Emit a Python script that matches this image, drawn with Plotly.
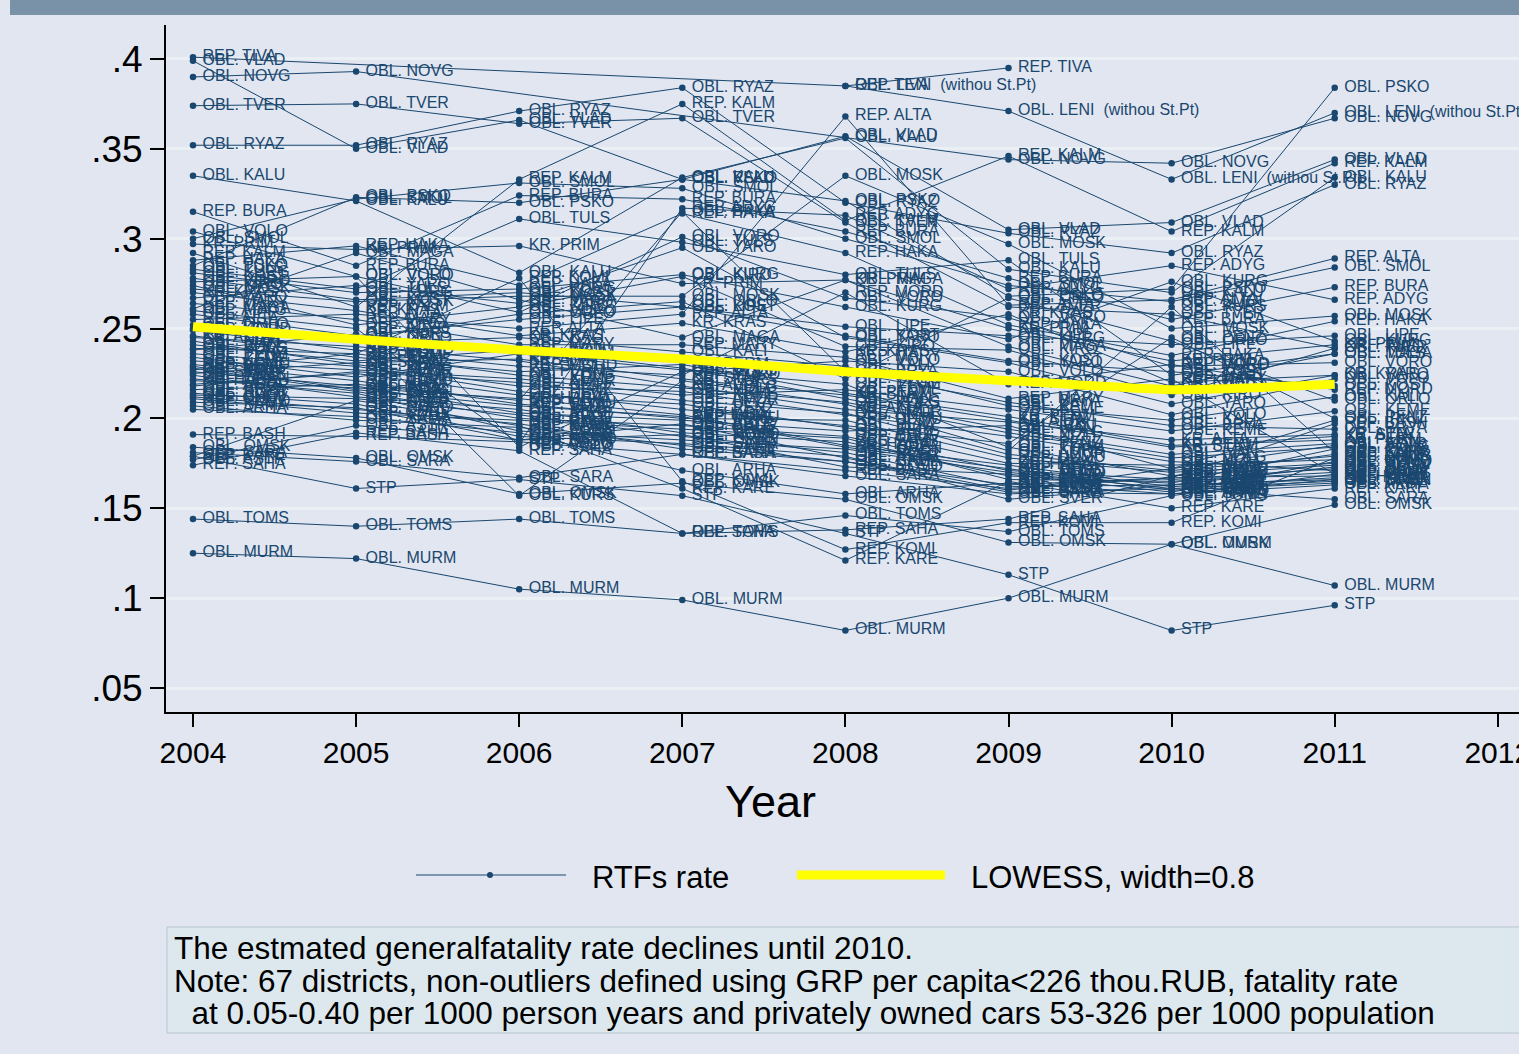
import plotly.graph_objects as go

years = [2004, 2005, 2006, 2007, 2008, 2009, 2010, 2011]

districts = [
    "REP. TIVA", "OBL. VLAD", "OBL. NOVG", "OBL. TVER", "OBL. RYAZ", "OBL. KALU", "REP. BURA",
    "OBL. VOLO", "OBL. SMOL", "KR. PRIM", "REP. KALM", "OBL. PSKO", "OBL. KURG", "OBL. KOST",
    "OBL. KIRO", "KR. KRAS", "REP. MARY", "KR. ALTA", "OBL. LIPE", "OBL. TULS", "OBL. VORO",
    "OBL. YARO", "REP. ADYG", "OBL. MOSK", "OBL. LENI  (withou St.Pt)", "REP. ALTA", "REP. MORD",
    "OBL. ORLO", "OBL. KEME", "REP. KOMI", "REP. KARE", "OBL. PENZ", "OBL. IVAN", "REP. UDMU",
    "OBL. BRYA", "OBL. BELG", "OBL. KURS", "OBL. TAMB", "OBL. ULYA", "KR. PERM", "OBL. NIZH",
    "OBL. OREN", "OBL. CHEL", "OBL. SVER", "OBL. TYUM", "OBL. IRKU", "REP. HAKA", "KR. HABA",
    "OBL. AMUR", "OBL. MAGA", "REP. CHUV", "REP. TATA", "OBL. VOLG", "OBL. ROST", "KR. STAV",
    "OBL. KALI", "OBL. NOVO", "OBL. ASTR", "OBL. SARA", "OBL. ARHA", "REP. BASH", "OBL. OMSK",
    "REP. SAHA", "OBL. TOMS", "OBL. MURM", "STP", "OBL. SAMA",
]

N = None
rate_2004 = [.401, .399, .390, .374, .352, .335, .315, .304, .300, .297, .292, .285, .281, .278,
             .274, .270, .264, .245, .258, .283, .276, .267, .260, .272, N, .255, .249,
             .252, .232, .227, .179, .236, .241, .230, .216, .228, .238, .224, .219, .246, .243,
             .222, .212, .214, .234, .226, .288, .221, .218, .261, .211, .229, .239, .213, .225,
             .250, .209, .177, .181, .205, .191, .184, .174, .144, .125, .179, .207]
rate_2005 = [N, .350, .393, .375, .352, .321, .285, .279, .322, .294, .262, .323, .270, .266,
             .252, .260, .255, .240, .246, .272, .279, .274, .250, .265, N, .258, .238,
             .244, .227, .236, .210, .229, .232, .221, .219, .215, .247, .212, .225, .234, .230,
             .214, .205, .208, .223, .218, .296, .217, .226, .292, .203, .216, .236, .211, .231,
             .242, .206, .196, .176, .201, .190, .178, .192, .140, .122, .161, .199]
rate_2006 = [N, .366, N, .364, .371, .281, .324, .184, .331, .296, .333, .320, .272, .270,
             .262, .246, .241, .232, .255, .311, .259, .264, .186, .268, N, .250, .229,
             .258, .222, .278, .196, .215, .238, .208, .210, .200, .157, .205, .213, .226, .218,
             .193, .197, .190, .236, .203, .274, .211, .220, .266, .199, .207, .224, .202, .233,
             .245, .188, .188, .167, .192, .187, .158, .182, .144, .105, .166, .195]
rate_2007 = [N, .333, N, .367, .384, .334, .322, .226, .328, .275, .375, .333, .280, .262,
             .279, .253, .241, .218, .262, .298, .301, .295, .317, .268, N, .258, .224,
             .265, .213, .165, .161, .205, .228, .200, .315, .196, .221, .192, .208, .230, .215,
             .188, .183, .186, .227, .199, .314, .202, .210, .245, .194, .201, .217, .190, .222,
             .237, .191, .197, .180, .171, .180, .164, .136, .136, .099, .157, .185]
rate_2008 = [.385, .357, N, .309, .320, .356, .304, .232, .300, .277, .310, .321, .262, .246,
             .240, .237, .234, .205, .251, .280, .267, .245, .313, .335, .385, .368, .270,
             .222, .216, .127, .121, .196, .211, .199, .226, .190, .208, .187, .195, .214, .202,
             .183, .176, .179, .219, .193, .292, .185, .203, .277, .189, .184, .209, .181, .213,
             .229, .173, .178, .168, .158, .171, .155, .138, .146, .082, .136, .176]
rate_2009 = [.395, .305, .344, .262, .303, .283, .278, .226, .274, .250, .346, .268, .244, .232,
             .238, .258, .211, .198, .246, .288, .256, .231, .272, .297, .371, .263, .219,
             .267, .205, .142, .165, .186, .194, .178, .209, .171, .182, .168, .175, .201, .190,
             .170, .163, .155, .184, .196, .252, .174, .180, .240, .166, .172, .192, .162, .199,
             .207, .169, .160, .158, .164, .161, .131, .144, .137, .100, .113, .159]
rate_2010 = [N, .309, .342, .258, .292, .270, .255, .202, .265, .232, .304, .272, .276, .226,
             .213, .220, .222, .188, .241, .224, .229, .208, .285, .250, .333, .266, .230,
             .243, .193, .142, .150, .245, .180, .170, .196, .166, .262, .164, .174, .185, .176,
             .161, .167, .163, .168, .172, .235, .162, .171, .218, .165, .160, .178, .163, .184,
             .199, .159, .172, .161, .158, .167, .130, .168, .157, .130, .082, .158]
rate_2011 = [N, .344, .367, .239, .330, .334, .273, .222, .284, .241, .342, .384, .243, .218,
             .239, .224, .169, .191, .246, .236, .231, .224, .266, .257, .370, .289, .216,
             .210, .204, .178, .161, .200, .186, .175, .194, .172, .181, .183, .177, .188, .171,
             .165, .168, .166, .174, .199, .254, .167, .179, .236, .170, .164, .184, .173, .190,
             .212, .176, .185, .155, .163, .197, .152, .180, .169, .107, .096, .166]

lowess_rate = [.251, .244, .238, .233, .226, .221, .216, .219]

y_tickvals = [.05, .1, .15, .2, .25, .3, .35, .4]
y_ticktext = [".05", ".1", ".15", ".2", ".25", ".3", ".35", ".4"]
x_tickvals = [2004, 2005, 2006, 2007, 2008, 2009, 2010, 2011, 2012]

NAVY = "#1a476f"
BG = "#e1e6f0"
FONT = "Liberation Sans, Arial, sans-serif"

columns = [rate_2004, rate_2005, rate_2006, rate_2007, rate_2008, rate_2009, rate_2010, rate_2011]

fig = go.Figure()
for i, name in enumerate(districts):
    vals = [col[i] for col in columns]
    fig.add_trace(go.Scatter(
        x=years, y=vals, mode="lines+markers+text",
        text=[" " + name if v is not None else "" for v in vals],
        textposition="middle right",
        textfont=dict(family=FONT, size=16, color=NAVY),
        line=dict(color=NAVY, width=1),
        marker=dict(color=NAVY, size=6.5),
        connectgaps=True, cliponaxis=False, showlegend=False, hoverinfo="skip",
    ))

fig.add_trace(go.Scatter(
    x=years, y=lowess_rate, mode="lines",
    line=dict(color="#ffff00", width=9, shape="spline", smoothing=0.6),
    showlegend=False, hoverinfo="skip",
))

W, H = 1519, 1054
L, R, T, B = 166, 0, 25, 342
PW, PH = W - L - R, H - T - B


def px(xp):
    return (xp - L) / PW


def py(yp):
    return (H - B - yp) / PH


shapes = [
    # title bar (clipped at top)
    dict(type="rect", xref="paper", yref="paper", x0=px(10), x1=px(1530), y0=py(15), y1=py(-20),
         fillcolor="#7a92a8", line=dict(width=0), layer="above"),
    # legend entries
    dict(type="line", xref="paper", yref="paper", x0=px(416), x1=px(566), y0=py(875), y1=py(875),
         line=dict(color=NAVY, width=1)),
    dict(type="circle", xref="paper", yref="paper", x0=px(487), x1=px(493), y0=py(878), y1=py(872),
         fillcolor=NAVY, line=dict(color=NAVY, width=0)),
    dict(type="line", xref="paper", yref="paper", x0=px(797), x1=px(945), y0=py(875), y1=py(875),
         line=dict(color="#ffff00", width=9)),
    # note box
    dict(type="rect", xref="paper", yref="paper", x0=px(167), x1=px(1530), y0=py(927), y1=py(1033),
         fillcolor="#dce8ee", line=dict(color="#b9c6d0", width=1)),
]

annotations = [
    dict(text="Year", xref="paper", yref="paper", x=px(770), y=py(801), showarrow=False,
         font=dict(family=FONT, size=45, color="black"), xanchor="center", yanchor="middle"),
    dict(text="RTFs rate", xref="paper", yref="paper", x=px(590), y=py(877), showarrow=False,
         font=dict(family=FONT, size=31, color="black"), xanchor="left", yanchor="middle"),
    dict(text="LOWESS, width=0.8", xref="paper", yref="paper", x=px(969), y=py(877), showarrow=False,
         font=dict(family=FONT, size=31, color="black"), xanchor="left", yanchor="middle"),
    dict(text="The estmated generalfatality rate declines until 2010.", xref="paper", yref="paper",
         x=px(172), y=py(948), showarrow=False, font=dict(family=FONT, size=31.5, color="black"),
         xanchor="left", yanchor="middle"),
    dict(text="Note: 67 districts, non-outliers defined using GRP per capita<226 thou.RUB, fatality rate",
         xref="paper", yref="paper", x=px(172), y=py(981), showarrow=False,
         font=dict(family=FONT, size=31.5, color="black"), xanchor="left", yanchor="middle"),
    dict(text="\u00a0 at 0.05-0.40 per 1000 person years and privately owned cars 53-326 per 1000 population",
         xref="paper", yref="paper", x=px(172), y=py(1013), showarrow=False,
         font=dict(family=FONT, size=31.5, color="black"), xanchor="left", yanchor="middle"),
]

fig.update_layout(
    width=W, height=H,
    margin=dict(l=L, r=R, t=T, b=B, pad=0, autoexpand=False),
    paper_bgcolor=BG, plot_bgcolor=BG,
    font=dict(family=FONT, color="black"),
    shapes=shapes, annotations=annotations,
    xaxis=dict(range=[2003.8345, 2012.13], tickvals=x_tickvals, ticks="outside", ticklen=13,
               tickcolor="black", tickwidth=2, showline=True, linecolor="black", linewidth=2,
               showgrid=False, zeroline=False, ticklabeloverflow="allow", automargin=False,
               tickfont=dict(size=30, family=FONT, color="black")),
    yaxis=dict(range=[0.03665, 0.4189], tickvals=y_tickvals, ticktext=y_ticktext, ticks="outside",
               ticklen=14, tickcolor="black", tickwidth=2, showline=True, linecolor="black", linewidth=2,
               showgrid=True, gridcolor="#eaf0f3", gridwidth=3, zeroline=False, automargin=False,
               tickfont=dict(size=37, family=FONT, color="black")),
)

fig.write_html("out.html",
               config={"displayModeBar": False},
               post_script="document.body.style.margin='0';document.body.style.background='#e1e6f0';")
